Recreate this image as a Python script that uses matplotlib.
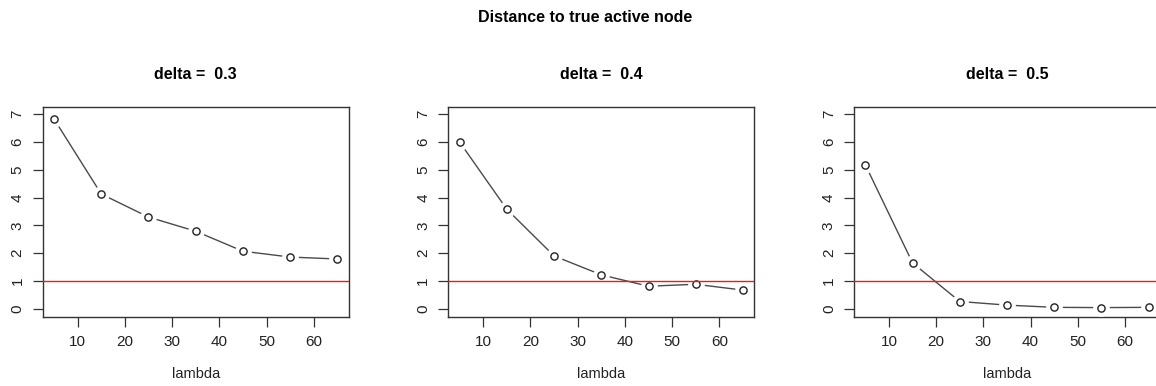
import matplotlib

matplotlib.use("Agg")
import matplotlib.pyplot as plt

plt.rcParams["font.family"] = ["Liberation Sans", "DejaVu Sans"]

lam = [5, 15, 25, 35, 45, 55, 65]
deltas = ["0.3", "0.4", "0.5"]
dist_03 = [6.83, 4.13, 3.30, 2.79, 2.07, 1.86, 1.79]
dist_04 = [6.00, 3.58, 1.90, 1.22, 0.81, 0.88, 0.67]
dist_05 = [5.18, 1.65, 0.26, 0.13, 0.05, 0.04, 0.05]
series = [dist_03, dist_04, dist_05]
x_ticks = [10, 20, 30, 40, 50, 60]
y_ticks = [0, 1, 2, 3, 4, 5, 6, 7]
threshold = 1

W, H = 1156, 386
fig = plt.figure(figsize=(W / 100, H / 100), dpi=100)

lefts = [42.7, 448.3, 854.0]
box_w, box_top, box_bot = 306.0, 106.5, 316.5

for left, delta, vals in zip(lefts, deltas, series):
    ax = fig.add_axes([left / W, (H - box_bot) / H, box_w / W, (box_bot - box_top) / H])
    # R type="b": line with gaps around the open points
    ax.plot(lam, vals, color="#4a4a4a", linewidth=1.0, zorder=2)
    ax.plot(lam, vals, linestyle="none", marker="o", markersize=11,
            markerfacecolor="white", markeredgecolor="white", zorder=3)
    ax.plot(lam, vals, linestyle="none", marker="o", markersize=5.2,
            markerfacecolor="white", markeredgecolor="#222222",
            markeredgewidth=1.0, zorder=4)
    ax.axhline(threshold, color="#f01818", linewidth=1.0, zorder=5)

    ax.set_xlim(2.6, 67.4)
    ax.set_ylim(-0.28, 7.28)
    ax.set_xticks(x_ticks)
    ax.set_yticks(y_ticks)
    ax.set_yticklabels([str(v) for v in y_ticks], rotation=90, va="center")
    ax.tick_params(direction="out", length=7, width=0.9, color="#333333",
                   labelsize=11, pad=6, labelcolor="#222222")
    for s in ax.spines.values():
        s.set_linewidth(1.0)
        s.set_color("#333333")
    ax.set_xlabel("lambda", fontsize=10.5, labelpad=13, color="#222222")
    ax.set_title(f"delta =  {delta}", fontsize=11.5, fontweight="bold", pad=20)

fig.text(585 / W, 1 - 17 / H, "Distance to true active node", ha="center",
         va="center", fontsize=11.5, fontweight="bold")

fig.savefig("out.png", dpi=100)
